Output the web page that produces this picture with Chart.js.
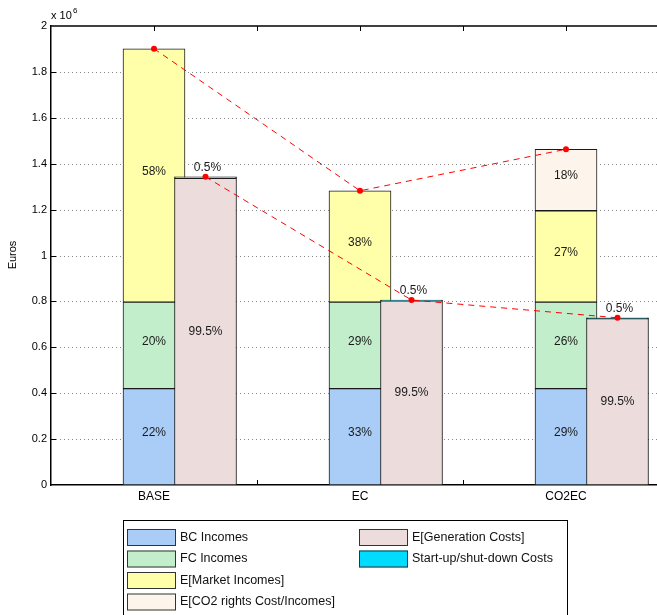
<!DOCTYPE html>
<html>
<head>
<meta charset="utf-8">
<script src="https://cdn.jsdelivr.net/npm/chart.js@4/dist/chart.umd.min.js"></script>
<style>
  html, body { margin: 0; padding: 0; background: #fff; overflow: hidden; }
  canvas { display: block; }
</style>
</head>
<body>
<canvas id="chart" width="680" height="615"></canvas>
<script>
// Scenarios on the horizontal axis
const categories = ['BASE', 'EC', 'CO2EC'];

// Income components (euros)
const bcIncomes     = [420000, 420000, 420000];
const fcIncomes     = [377000, 377000, 377000];
const marketIncomes = [1104000, 485000, 398000];
const co2Rights     = [0, 0, 268000];

// Cost components (euros)
const generationCosts = [1336000, 802000, 725000];
const startupCosts    = [6700, 4000, 3600];

// Share of each component within its bar
const bcShare      = ['22%', '33%', '29%'];
const fcShare      = ['20%', '29%', '26%'];
const marketShare  = ['58%', '38%', '27%'];
const co2Share     = ['', '', '18%'];
const genShare     = ['99.5%', '99.5%', '99.5%'];
const startupShare = ['0.5%', '0.5%', '0.5%'];

const FONT = '"Liberation Sans", Arial, Helvetica, sans-serif';
const COST_OFFSET = 0.25;   // cost bar sits a quarter step right of the income bar
const BAR_PX = 62;

function barSet(label, values, shares, color, xShift, stack, order, edge) {
  return {
    type: 'bar',
    label: label,
    data: values.map((v, i) => ({ x: i + 1 + xShift, y: v })),
    shares: shares,
    stack: stack,
    order: order,
    grouped: false,
    barThickness: BAR_PX,
    backgroundColor: color,
    borderColor: edge || '#1a1a1a',
    borderWidth: 1,
    borderSkipped: false,
    yAxisID: 'y'
  };
}

const incomeTotals = categories.map((_, i) => bcIncomes[i] + fcIncomes[i] + marketIncomes[i] + co2Rights[i]);
const costTotals   = categories.map((_, i) => generationCosts[i] + startupCosts[i]);

function trendLine(totals, xShift) {
  return {
    type: 'line',
    data: totals.map((v, i) => ({ x: i + 1 + xShift, y: v })),
    order: 0,
    yAxisID: 'y2',
    borderColor: '#ff0000',
    borderWidth: 1,
    borderDash: [6, 5],
    pointRadius: 3,
    pointBackgroundColor: '#ff0000',
    pointBorderWidth: 0,
    fill: false,
    tension: 0
  };
}

const datasets = [
  barSet('BC Incomes', bcIncomes, bcShare, '#a9cdf6', 0, 'inc', 2),
  barSet('FC Incomes', fcIncomes, fcShare, '#c3eecb', 0, 'inc', 2),
  barSet('E[Market Incomes]', marketIncomes, marketShare, '#ffffaa', 0, 'inc', 2),
  barSet('E[CO2 rights Cost/Incomes]', co2Rights, co2Share, '#fdf5ec', 0, 'inc', 2),
  barSet('E[Generation Costs]', generationCosts, genShare, '#ecdcdc', COST_OFFSET, 'cost', 1),
  barSet('Start-up/shut-down Costs', startupCosts, startupShare, '#00dcff', COST_OFFSET, 'cost', 1, '#000'),
  trendLine(incomeTotals, 0),
  trendLine(costTotals, COST_OFFSET)
];

// Box frame, dotted grid, inward ticks, value labels, axis captions and legend
const decorations = {
  id: 'decorations',
  beforeDatasetsDraw(chart) {
    const { ctx, chartArea: a, scales: { x, y } } = chart;
    ctx.save();
    ctx.lineWidth = 1;
    ctx.strokeStyle = '#8a8a8a';
    ctx.setLineDash([1, 3]);
    y.ticks.forEach(t => {
      if (t.value <= 0 || t.value >= 2e6) return;
      const py = Math.round(y.getPixelForValue(t.value)) + 0.5;
      ctx.beginPath(); ctx.moveTo(a.left + 1, py); ctx.lineTo(a.right, py); ctx.stroke();
    });
    ctx.setLineDash([]);
    ctx.strokeStyle = '#000';
    x.ticks.forEach(t => {
      if (t.value <= 0.5 || t.value >= 3.5) return;
      const px = Math.round(x.getPixelForValue(t.value)) + 0.5;
      ctx.beginPath();
      ctx.moveTo(px, a.bottom); ctx.lineTo(px, a.bottom - 5);
      ctx.moveTo(px, a.top); ctx.lineTo(px, a.top + 5);
      ctx.stroke();
    });
    y.ticks.forEach(t => {
      if (t.value <= 0 || t.value >= 2e6) return;
      const py = Math.round(y.getPixelForValue(t.value)) + 0.5;
      ctx.beginPath(); ctx.moveTo(a.left, py); ctx.lineTo(a.left + 5, py); ctx.stroke();
    });
    // top frame line
    ctx.lineWidth = 1.5;
    ctx.beginPath(); ctx.moveTo(a.left, a.top); ctx.lineTo(a.right, a.top); ctx.stroke();
    ctx.restore();
  },
  afterDatasetsDraw(chart) {
    const { ctx } = chart;
    ctx.save();
    ctx.font = '12px ' + FONT;
    ctx.fillStyle = '#1a1a1a';
    ctx.textAlign = 'center';
    ctx.textBaseline = 'middle';
    chart.data.datasets.forEach((ds, di) => {
      if (!ds.shares) return;
      const meta = chart.getDatasetMeta(di);
      meta.data.forEach((el, i) => {
        const txt = ds.shares[i];
        if (!txt) return;
        const p = el.getProps(['x', 'y', 'base'], true);
        if (ds.stack === 'cost' && ds.label.startsWith('Start')) {
          ctx.fillText(txt, p.x + 2, p.y - 9);
        } else if (ds.stack === 'cost') {
          ctx.fillText(txt, p.x, (p.y + p.base) / 2);
        } else {
          ctx.fillText(txt, p.x, (p.y + p.base) / 2 - 4);
        }
      });
    });
    ctx.restore();
  },
  afterDraw(chart) {
    const { ctx } = chart;
    ctx.save();
    ctx.fillStyle = '#000';
    // axis captions
    ctx.font = '11px ' + FONT;
    ctx.textBaseline = 'middle';
    ctx.textAlign = 'center';
    ctx.save();
    ctx.translate(13, 255);
    ctx.rotate(-Math.PI / 2);
    ctx.fillText('Euros', 0, 0);
    ctx.restore();
    ctx.textAlign = 'left';
    ctx.textBaseline = 'alphabetic';
    ctx.fillText('x 10', 51, 19);
    ctx.font = '8px ' + FONT;
    ctx.fillText('6', 73, 13);

    // legend box
    const bx = 123.5, by = 520.5, bw = 444, bh = 110;
    ctx.fillStyle = '#fff';
    ctx.fillRect(bx, by, bw, bh);
    ctx.strokeStyle = '#000';
    ctx.lineWidth = 1;
    ctx.strokeRect(bx, by, bw, bh);
    const bars = chart.data.datasets.filter(d => d.type === 'bar');
    const inc = bars.filter(d => d.stack === 'inc');
    const cost = bars.filter(d => d.stack === 'cost');
    ctx.font = '12.5px ' + FONT;
    ctx.textBaseline = 'middle';
    const rowY = [537, 558.5, 580, 601.5];
    const drawEntry = (d, sx, ry) => {
      ctx.fillStyle = d.backgroundColor;
      ctx.fillRect(sx, ry - 8, 49, 17);
      ctx.strokeStyle = '#333';
      ctx.strokeRect(sx + 0.5, ry - 7.5, 48, 16);
      ctx.fillStyle = '#111';
      ctx.fillText(d.label, sx + 53, ry + 0.5);
    };
    inc.forEach((d, k) => drawEntry(d, 127, rowY[k]));
    cost.forEach((d, k) => drawEntry(d, 359, rowY[k]));
    ctx.restore();
  }
};

new Chart(document.getElementById('chart'), {
  type: 'bar',
  data: { datasets: datasets },
  options: {
    responsive: false,
    animation: false,
    devicePixelRatio: 1,
    layout: { padding: { top: 26, right: 11, left: 0, bottom: 0 } },
    plugins: { legend: { display: false }, tooltip: { enabled: false } },
    scales: {
      x: {
        type: 'linear',
        min: 0.5,
        max: 3.5,
        offset: false,
        grid: { display: false, drawTicks: false },
        border: { display: true, color: '#000', width: 1.5 },
        ticks: {
          stepSize: 0.5,
          autoSkip: false,
          maxRotation: 0,
          padding: 4,
          color: '#000',
          font: { family: FONT, size: 12 },
          callback: v => {
            const r = Math.round(v);
            return Math.abs(v - r) < 1e-6 && r >= 1 && r <= categories.length ? categories[r - 1] : '';
          }
        },
        afterFit: s => { s.height = 130; }
      },
      y: {
        stacked: true,
        min: 0,
        max: 2000000,
        grid: { display: false, drawTicks: false },
        border: { display: true, color: '#000', width: 1.5 },
        ticks: {
          stepSize: 200000,
          padding: 4,
          color: '#000',
          font: { family: FONT, size: 11 },
          callback: v => String(Math.round(v / 1e5) / 10)
        },
        afterFit: s => { s.width = 51; }
      },
      y2: { display: false, min: 0, max: 2000000 }
    }
  },
  plugins: [decorations]
});
</script>
</body>
</html>
